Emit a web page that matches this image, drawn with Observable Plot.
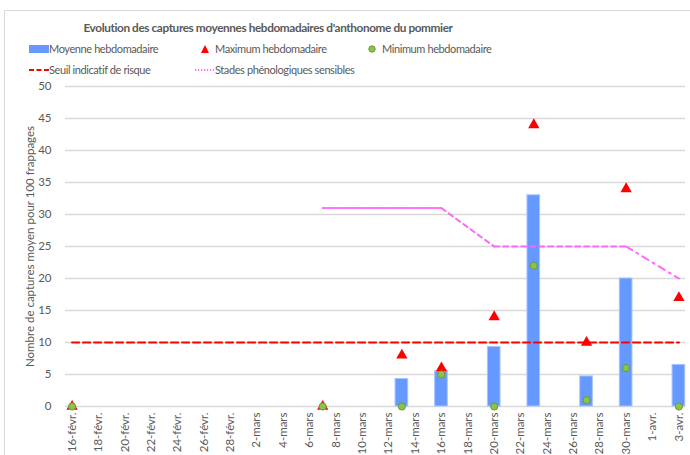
<!DOCTYPE html>
<html><head><meta charset="utf-8">
<script src="https://cdn.jsdelivr.net/npm/d3@7"></script>
<script src="https://cdn.jsdelivr.net/npm/@observablehq/plot@0.6"></script>
<style>
body{margin:0;overflow:hidden;background:#fff;font-family:Lato,"Open Sans",sans-serif;color:#595959;}
#frame{position:absolute;left:4px;top:10px;width:720px;height:480px;border:1px solid #d9d9d9;box-sizing:border-box;}
#title{position:absolute;top:20px;left:0;width:536px;text-align:center;font-weight:bold;font-size:11.8px;letter-spacing:-0.4px;}
.lg{position:absolute;font-size:11px;line-height:14px;white-space:nowrap;letter-spacing:-0.4px;}
.sw{position:absolute;}
#chart{position:absolute;left:0;top:80px;}
</style></head>
<body>
<div id="frame"></div>
<div id="title">Evolution des captures moyennes hebdomadaires d'anthonome du pommier</div>
<svg class="sw" style="left:29px;top:44px" width="20" height="10"><rect x="0" y="1" width="20" height="8" fill="#6699ff"/></svg>
<div class="lg" style="left:49px;top:42px">Moyenne hebdomadaire</div>
<svg class="sw" style="left:200px;top:44px" width="10" height="10"><path d="M5,1 L9,9 L1,9 Z" fill="#ff0000"/></svg>
<div class="lg" style="left:215px;top:42px">Maximum hebdomadaire</div>
<svg class="sw" style="left:367px;top:44px" width="10" height="10"><circle cx="5" cy="5" r="3.2" fill="#8bc34a" stroke="#6b9a34"/></svg>
<div class="lg" style="left:382px;top:42px">Minimum hebdomadaire</div>
<svg class="sw" style="left:29px;top:65px" width="20" height="10"><line x1="0" x2="20" y1="5" y2="5" stroke="#ff0000" stroke-width="2" stroke-dasharray="5,2.5"/></svg>
<div class="lg" style="left:49px;top:63px">Seuil indicatif de risque</div>
<svg class="sw" style="left:195px;top:65px" width="20" height="10"><line x1="0" x2="20" y1="5" y2="5" stroke="#ff66ff" stroke-width="2" stroke-dasharray="1.2,1.8"/></svg>
<div class="lg" style="left:215px;top:63px">Stades phénologiques sensibles</div>
<div id="chart"></div>
<script>
const sampleDates = ["2023-02-16","2023-03-07","2023-03-13","2023-03-16","2023-03-20","2023-03-23","2023-03-27","2023-03-30","2023-04-03"];
const meanValues = [0, 0, 4.3, 5.5, 9.3, 33, 4.7, 20, 6.5];
const maxValues  = [0, 0, 8, 6, 14, 44, 10, 34, 17];
const minValues  = [0, 0, 0, 5, 0, 22, 1, 6, 0];
const thresholdDates = ["2023-02-16","2023-04-03"];
const thresholdValues = [10, 10];
const phenoDates = ["2023-03-07","2023-03-16","2023-03-20","2023-03-30","2023-04-03"];
const phenoValues = [31, 31, 25, 25, 20];
const phenoSegmentStyles = ["dot","dash","dash","dashdot"];
const tickLabels = ["16-févr.","18-févr.","20-févr.","22-févr.","24-févr.","26-févr.","28-févr.","2-mars","4-mars","6-mars","8-mars","10-mars","12-mars","14-mars","16-mars","18-mars","20-mars","22-mars","24-mars","26-mars","28-mars","30-mars","1-avr.","3-avr."];
const yTicks = [0,5,10,15,20,25,30,35,40,45,50];

const parse = d3.utcParse("%Y-%m-%d");
const samples = sampleDates.map((d,i)=>({date:parse(d), mean:meanValues[i], max:maxValues[i], min:minValues[i]}));
const threshold = thresholdDates.map((d,i)=>({date:parse(d), v:thresholdValues[i]}));
const firstTick = parse(sampleDates[0]);
const tickDates = tickLabels.map((_,i)=>d3.utcDay.offset(firstTick, 2*i));
const labelMap = new Map(tickDates.map((d,i)=>[+d, tickLabels[i]]));
const dashes = {dot:"1.2,1.8", dash:"5,4", dashdot:"7,5,2,5"};
const phenoSegs = phenoSegmentStyles.map((s,i)=>({style:s, pts:[{date:parse(phenoDates[i]), v:phenoValues[i]},{date:parse(phenoDates[i+1]), v:phenoValues[i+1]}]}));
const half = 0.48*864e5;

const plot = Plot.plot({
  width: 690, height: 380,
  marginLeft: 65, marginRight: 5, marginTop: 6, marginBottom: 54,
  style: {fontFamily: "Lato, 'Open Sans', sans-serif", fontSize: "11.5px", color: "#595959", background: "transparent"},
  x: {type: "utc", domain: [new Date(+parse("2023-02-15") + 864e5/2), new Date(+parse("2023-04-03") + 864e5/2)]},
  y: {domain: [0, 50]},
  marks: [
    Plot.gridY(yTicks, {stroke: "#d9d9d9", strokeOpacity: 1, strokeWidth: 1.3}),
    Plot.axisY(yTicks, {tickSize: 0, tickPadding: 14, label: "Nombre de captures moyen pour 100 frappages", labelAnchor: "center", labelArrow: "none", labelOffset: 40, fontSize: 11.5}),
    Plot.axisX(tickDates, {tickSize: 0, tickPadding: 6, tickRotate: -90, tickFormat: d => labelMap.get(+d), label: null, fontSize: 11.5}),
    Plot.rectY(samples, {x1: d => new Date(+d.date - half), x2: d => new Date(+d.date + half), y: "mean", fill: "#6699ff", stroke: "#a9c4ff", strokeWidth: 1}),
    Plot.line(threshold, {x: "date", y: "v", stroke: "#ff0000", strokeWidth: 2.2, strokeDasharray: "7,4"}),
    ...phenoSegs.map(s => Plot.line(s.pts, {x: "date", y: "v", stroke: "#ff66ff", strokeWidth: 2, strokeDasharray: dashes[s.style]})),
    Plot.dot(samples, {x: "date", y: "max", symbol: "triangle", r: 4.2, fill: "#ff0000"}),
    Plot.dot(samples, {x: "date", y: "min", r: 3.6, fill: "#8bc34a", stroke: "#6b9a34", strokeWidth: 1})
  ]
});
document.getElementById("chart").appendChild(plot);
</script>
</body></html>
